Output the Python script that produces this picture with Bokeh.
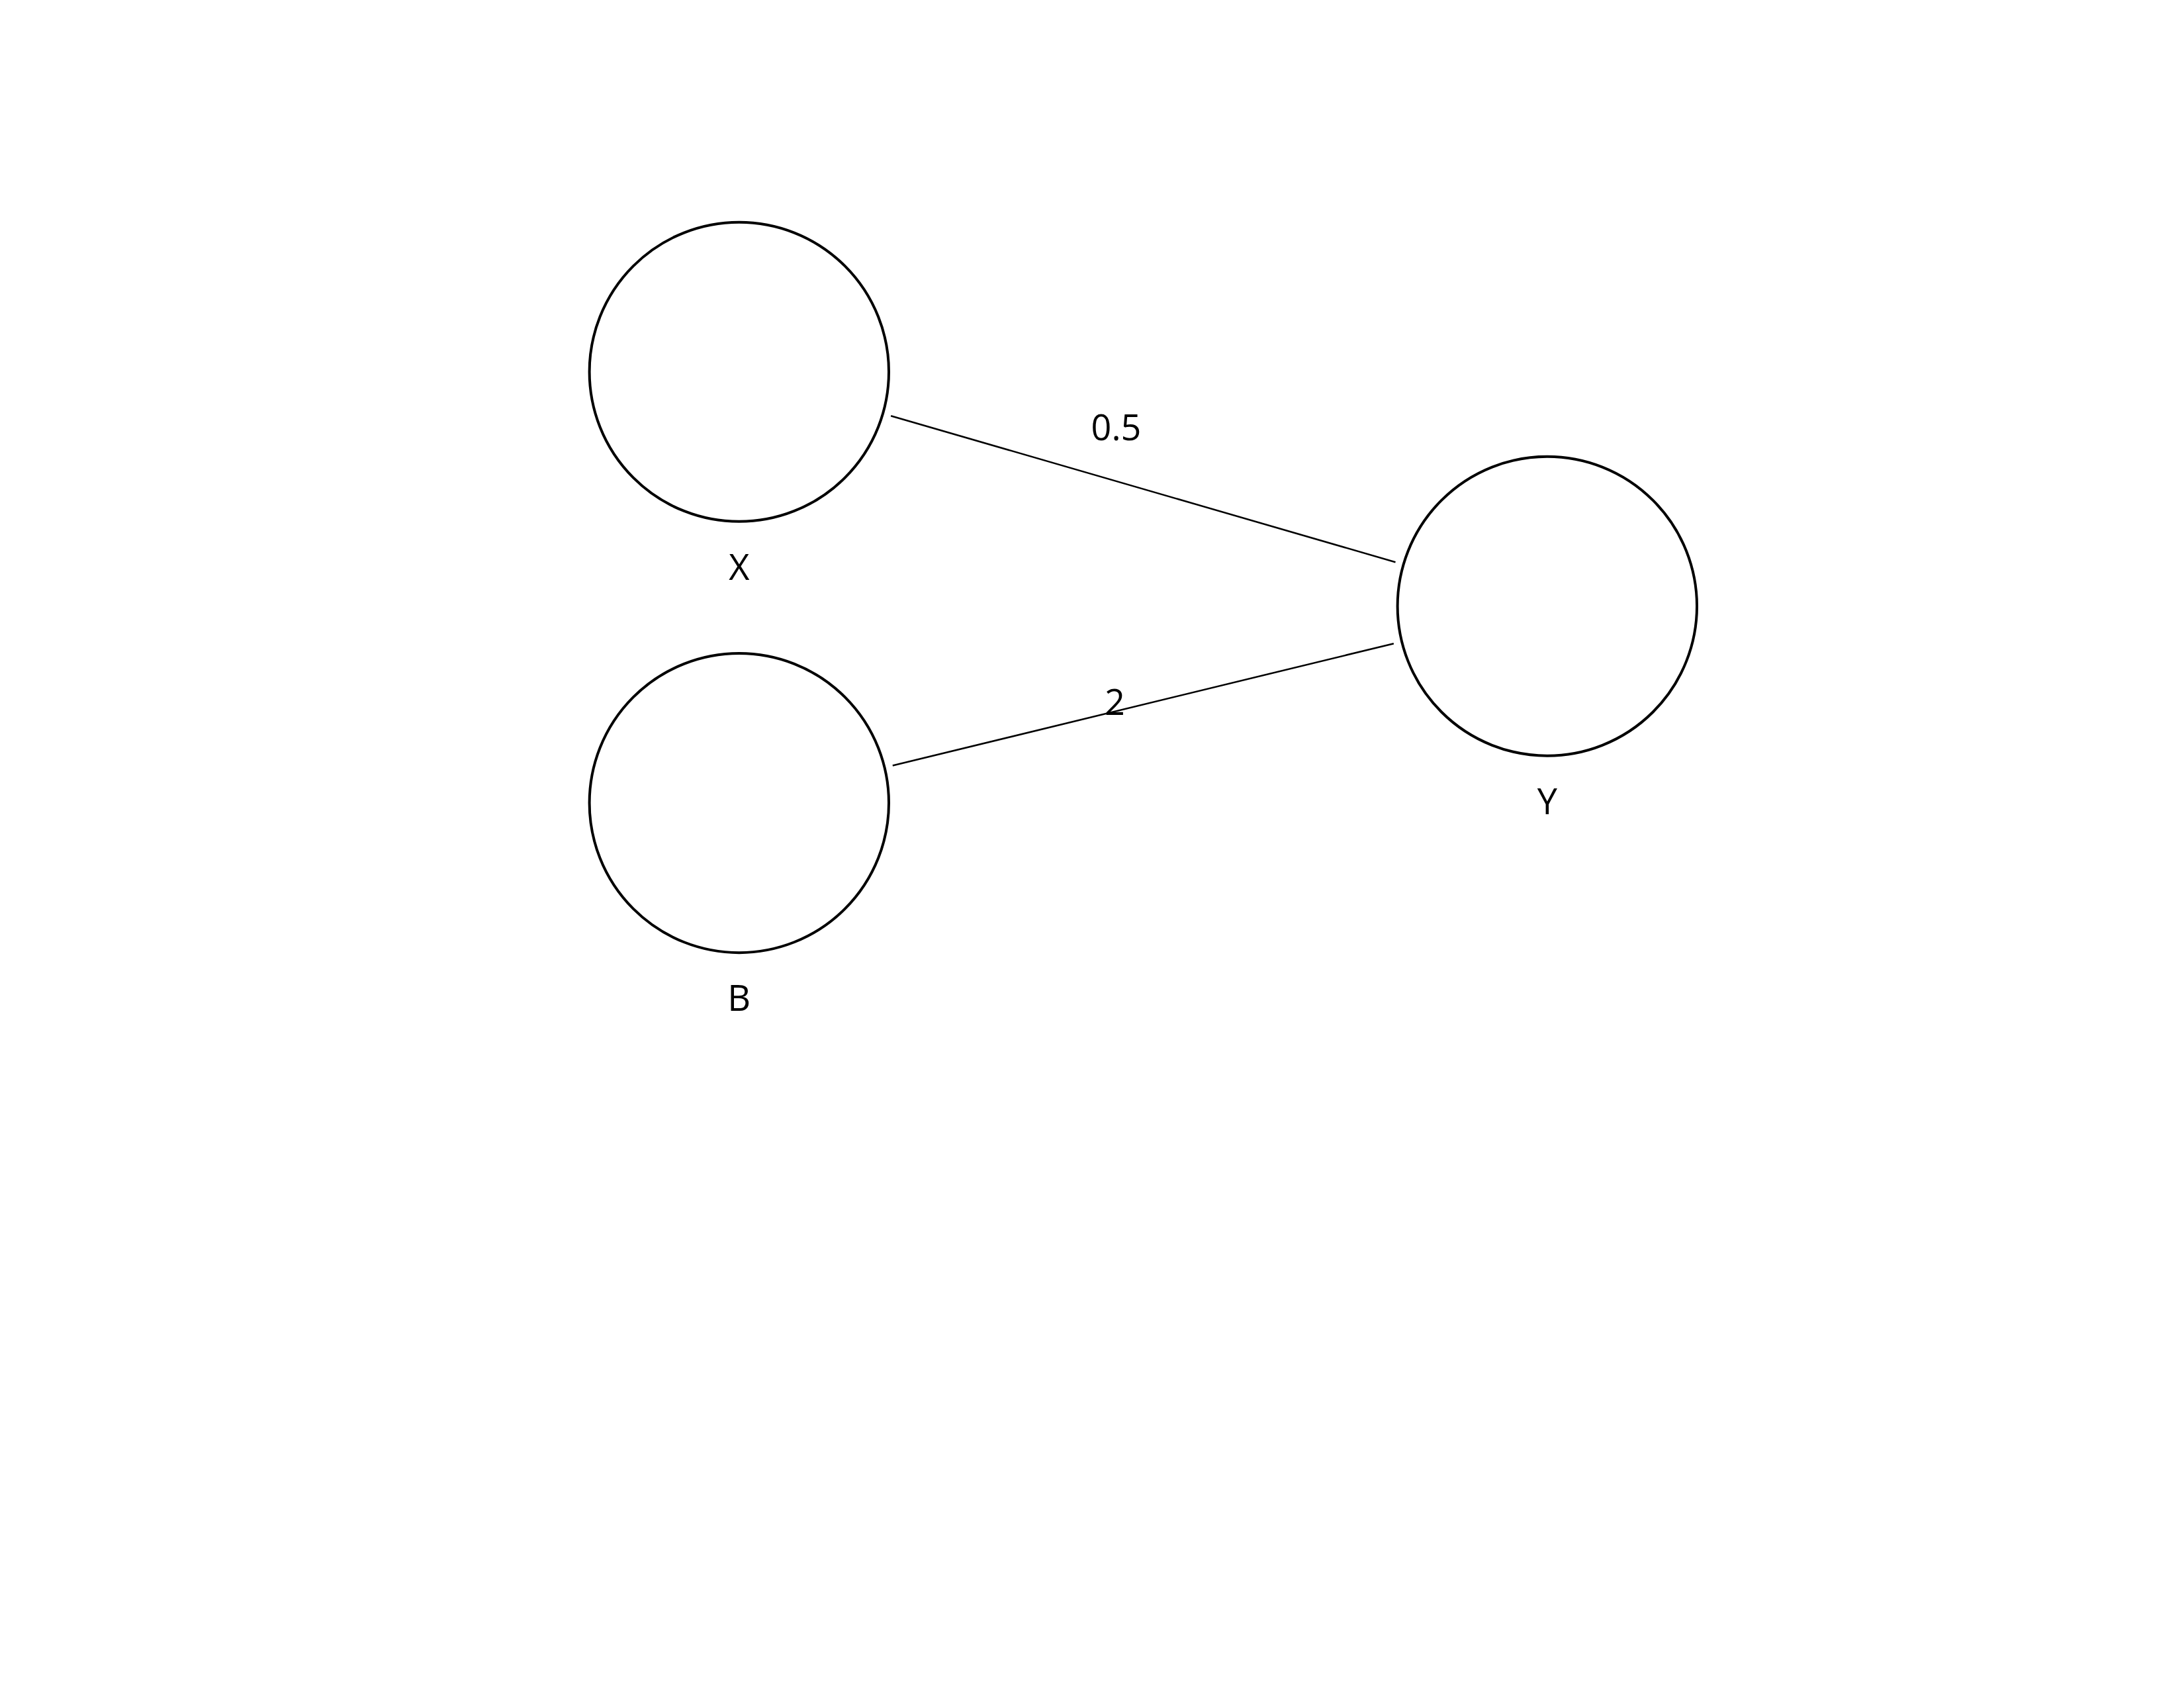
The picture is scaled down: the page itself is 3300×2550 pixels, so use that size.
import numpy as np
from bokeh.plotting import figure
from bokeh.models import Range1d, ColumnDataSource
from bokeh.core.properties import value
from bokeh.embed import file_html
from bokeh.resources import INLINE

# node layout (page units of the original drawing)
node_names = ["X", "B", "Y"]
node_x = [533, 533, 1116]
node_y = [268, 579, 437]
node_r = 108
label_offset = 140

edge_from = ["X", "B"]
edge_to = ["Y", "Y"]
edge_labels = ["0.5", "2"]
edge_label_x = [805, 804]
edge_label_y = [308, 506]

W, H = 3284, 2534
p = figure(width=W, height=H, x_range=Range1d(0, 1568), y_range=Range1d(1210, 0),
           output_backend="svg", toolbar_location=None, min_border=0)
p.axis.visible = False
p.grid.visible = False
p.outline_line_color = None

pos = {n: (x, y) for n, x, y in zip(node_names, node_x, node_y)}

# edges, trimmed to sit just outside the circles
x0, y0, x1, y1 = [], [], [], []
for a, b in zip(edge_from, edge_to):
    pa, pb = np.array(pos[a], float), np.array(pos[b], float)
    d = (pb - pa) / np.linalg.norm(pb - pa)
    s, e = pa + d * (node_r + 6), pb - d * (node_r + 6)
    x0.append(s[0]); y0.append(s[1]); x1.append(e[0]); y1.append(e[1])
p.segment(x0=x0, y0=y0, x1=x1, y1=y1, line_color="black", line_width=2.5)

nodes = ColumnDataSource(dict(x=node_x, y=node_y, name=node_names,
                              ly=[y + label_offset for y in node_y]))
p.circle(x="x", y="y", radius=node_r, source=nodes, fill_color="white",
         line_color="black", line_width=4)
p.text(x="x", y="ly", text="name", source=nodes, text_align="center",
       text_baseline="middle", text_font=value("Open Sans"), text_font_size="54px")

p.text(x=edge_label_x, y=edge_label_y, text=edge_labels, text_align="center",
       text_baseline="middle", text_font=value("Open Sans"), text_font_size="54px")

open("out.html", "w").write(file_html(p, INLINE))
